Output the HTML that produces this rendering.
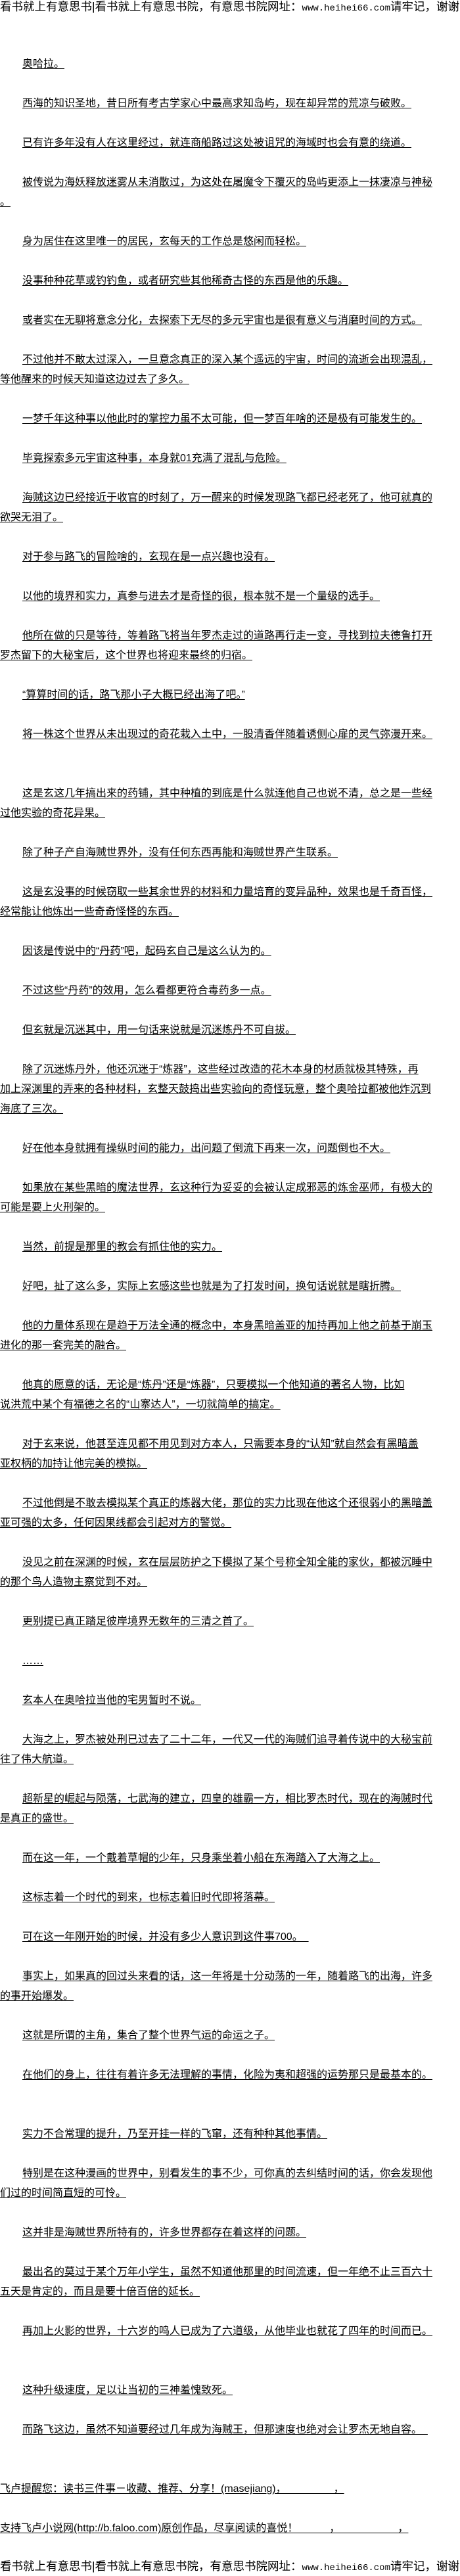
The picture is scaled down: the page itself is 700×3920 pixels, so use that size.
<!DOCTYPE html>
<html><head><meta charset="utf-8">
<style>
html,body{margin:0;padding:0;background:#fff;}
body{width:700px;height:3920px;position:relative;overflow:hidden;color:#000;font-family:"Liberation Sans","Noto Sans CJK SC",sans-serif;font-size:16px;}
.l{position:absolute;left:0;height:30px;line-height:30px;white-space:nowrap;text-decoration:underline;text-underline-offset:2px;}
.i{left:34px;}
.h{position:absolute;left:0;height:22px;line-height:22px;white-space:nowrap;font-size:17.5px;letter-spacing:0;}
.h .m{font-family:"Liberation Mono",monospace;font-size:14px;letter-spacing:0;}
</style></head><body>
<div class="h" style="top:-1px">看书就上有意思书|看书就上有意思书院，有意思书院网址：<span class="m">www.heihei66.com</span>请牢记，谢谢</div>
<div class="l i" style="top:83px">奥哈拉。</div>
<div class="l i" style="top:143px">西海的知识圣地，昔日所有考古学家心中最高求知岛屿，现在却异常的荒凉与破败。</div>
<div class="l i" style="top:203px">已有许多年没有人在这里经过，就连商船路过这处被诅咒的海域时也会有意的绕道。</div>
<div class="l i" style="top:263px">被传说为海妖释放迷雾从未消散过，为这处在屠魔令下覆灭的岛屿更添上一抹凄凉与神秘</div>
<div class="l" style="top:293px">。</div>
<div class="l i" style="top:353px">身为居住在这里唯一的居民，玄每天的工作总是悠闲而轻松。</div>
<div class="l i" style="top:413px">没事种种花草或钓钓鱼，或者研究些其他稀奇古怪的东西是他的乐趣。</div>
<div class="l i" style="top:473px">或者实在无聊将意念分化，去探索下无尽的多元宇宙也是很有意义与消磨时间的方式。</div>
<div class="l i" style="top:533px">不过他并不敢太过深入，一旦意念真正的深入某个遥远的宇宙，时间的流逝会出现混乱，</div>
<div class="l" style="top:563px">等他醒来的时候天知道这边过去了多久。</div>
<div class="l i" style="top:623px">一梦千年这种事以他此时的掌控力虽不太可能，但一梦百年啥的还是极有可能发生的。</div>
<div class="l i" style="top:683px">毕竟探索多元宇宙这种事，本身就01充满了混乱与危险。</div>
<div class="l i" style="top:743px">海贼这边已经接近于收官的时刻了，万一醒来的时候发现路飞都已经老死了，他可就真的</div>
<div class="l" style="top:773px">欲哭无泪了。</div>
<div class="l i" style="top:833px">对于参与路飞的冒险啥的，玄现在是一点兴趣也没有。</div>
<div class="l i" style="top:893px">以他的境界和实力，真参与进去才是奇怪的很，根本就不是一个量级的选手。</div>
<div class="l i" style="top:953px">他所在做的只是等待，等着路飞将当年罗杰走过的道路再行走一变，寻找到拉夫德鲁打开</div>
<div class="l" style="top:983px">罗杰留下的大秘宝后，这个世界也将迎来最终的归宿。</div>
<div class="l i" style="top:1043px">“算算时间的话，路飞那小子大概已经出海了吧。”</div>
<div class="l i" style="top:1103px">将一株这个世界从未出现过的奇花栽入土中，一股清香伴随着诱侧心扉的灵气弥漫开来。</div>
<div class="l i" style="top:1193px">这是玄这几年搞出来的药铺，其中种植的到底是什么就连他自己也说不清，总之是一些经</div>
<div class="l" style="top:1223px">过他实验的奇花异果。</div>
<div class="l i" style="top:1283px">除了种子产自海贼世界外，没有任何东西再能和海贼世界产生联系。</div>
<div class="l i" style="top:1343px">这是玄没事的时候窃取一些其余世界的材料和力量培育的变异品种，效果也是千奇百怪，</div>
<div class="l" style="top:1373px">经常能让他炼出一些奇奇怪怪的东西。</div>
<div class="l i" style="top:1433px">因该是传说中的“丹药”吧，起码玄自己是这么认为的。</div>
<div class="l i" style="top:1493px">不过这些“丹药”的效用，怎么看都更符合毒药多一点。</div>
<div class="l i" style="top:1553px">但玄就是沉迷其中，用一句话来说就是沉迷炼丹不可自拔。</div>
<div class="l i" style="top:1613px">除了沉迷炼丹外，他还沉迷于“炼器”，这些经过改造的花木本身的材质就极其特殊，再</div>
<div class="l" style="top:1643px">加上深渊里的弄来的各种材料，玄整天鼓捣出些实验向的奇怪玩意，整个奥哈拉都被他炸沉到</div>
<div class="l" style="top:1673px">海底了三次。</div>
<div class="l i" style="top:1733px">好在他本身就拥有操纵时间的能力，出问题了倒流下再来一次，问题倒也不大。</div>
<div class="l i" style="top:1793px">如果放在某些黑暗的魔法世界，玄这种行为妥妥的会被认定成邪恶的炼金巫师，有极大的</div>
<div class="l" style="top:1823px">可能是要上火刑架的。</div>
<div class="l i" style="top:1883px">当然，前提是那里的教会有抓住他的实力。</div>
<div class="l i" style="top:1943px">好吧，扯了这么多，实际上玄感这些也就是为了打发时间，换句话说就是瞎折腾。</div>
<div class="l i" style="top:2003px">他的力量体系现在是趋于万法全通的概念中，本身黑暗盖亚的加持再加上他之前基于崩玉</div>
<div class="l" style="top:2033px">进化的那一套完美的融合。</div>
<div class="l i" style="top:2093px">他真的愿意的话，无论是“炼丹”还是“炼器”，只要模拟一个他知道的著名人物，比如</div>
<div class="l" style="top:2123px">说洪荒中某个有福德之名的“山寨达人”，一切就简单的搞定。</div>
<div class="l i" style="top:2183px">对于玄来说，他甚至连见都不用见到对方本人，只需要本身的“认知”就自然会有黑暗盖</div>
<div class="l" style="top:2213px">亚权柄的加持让他完美的模拟。</div>
<div class="l i" style="top:2273px">不过他倒是不敢去模拟某个真正的炼器大佬，那位的实力比现在他这个还很弱小的黑暗盖</div>
<div class="l" style="top:2303px">亚可强的太多，任何因果线都会引起对方的警觉。</div>
<div class="l i" style="top:2363px">没见之前在深渊的时候，玄在层层防护之下模拟了某个号称全知全能的家伙，都被沉睡中</div>
<div class="l" style="top:2393px">的那个鸟人造物主察觉到不对。</div>
<div class="l i" style="top:2453px">更别提已真正踏足彼岸境界无数年的三清之首了。</div>
<div class="l i" style="top:2513px">……</div>
<div class="l i" style="top:2573px">玄本人在奥哈拉当他的宅男暂时不说。</div>
<div class="l i" style="top:2633px">大海之上，罗杰被处刑已过去了二十二年，一代又一代的海贼们追寻着传说中的大秘宝前</div>
<div class="l" style="top:2663px">往了伟大航道。</div>
<div class="l i" style="top:2723px">超新星的崛起与陨落，七武海的建立，四皇的雄霸一方，相比罗杰时代，现在的海贼时代</div>
<div class="l" style="top:2753px">是真正的盛世。</div>
<div class="l i" style="top:2813px">而在这一年，一个戴着草帽的少年，只身乘坐着小船在东海踏入了大海之上。</div>
<div class="l i" style="top:2873px">这标志着一个时代的到来，也标志着旧时代即将落幕。</div>
<div class="l i" style="top:2933px">可在这一年刚开始的时候，并没有多少人意识到这件事700。&nbsp;&nbsp;</div>
<div class="l i" style="top:2993px">事实上，如果真的回过头来看的话，这一年将是十分动荡的一年，随着路飞的出海，许多</div>
<div class="l" style="top:3023px">的事开始爆发。</div>
<div class="l i" style="top:3083px">这就是所谓的主角，集合了整个世界气运的命运之子。</div>
<div class="l i" style="top:3143px">在他们的身上，往往有着许多无法理解的事情，化险为夷和超强的运势那只是最基本的。</div>
<div class="l i" style="top:3233px">实力不合常理的提升，乃至开挂一样的飞窜，还有种种其他事情。</div>
<div class="l i" style="top:3293px">特别是在这种漫画的世界中，别看发生的事不少，可你真的去纠结时间的话，你会发现他</div>
<div class="l" style="top:3323px">们过的时间简直短的可怜。</div>
<div class="l i" style="top:3383px">这并非是海贼世界所特有的，许多世界都存在着这样的问题。</div>
<div class="l i" style="top:3443px">最出名的莫过于某个万年小学生，虽然不知道他那里的时间流速，但一年绝不止三百六十</div>
<div class="l" style="top:3473px">五天是肯定的，而且是要十倍百倍的延长。</div>
<div class="l i" style="top:3533px">再加上火影的世界，十六岁的鸣人已成为了六道级，从他毕业也就花了四年的时间而已。</div>
<div class="l i" style="top:3623px">这种升级速度，足以让当初的三神羞愧致死。</div>
<div class="l i" style="top:3683px">而路飞这边，虽然不知道要经过几年成为海贼王，但那速度也绝对会让罗杰无地自容。&nbsp;&nbsp;</div>
<div class="l" style="top:3773px">飞卢提醒您：读书三件事－收藏、推荐、分享！(masejiang)，　　　　　，</div>
<div class="l" style="top:3833px">支持飞卢小说网(http://b.faloo.com)原创作品，尽享阅读的喜悦！　　　，　　　　　　，</div>
<div class="h" style="top:3894px">看书就上有意思书|看书就上有意思书院，有意思书院网址：<span class="m">www.heihei66.com</span>请牢记，谢谢</div>
</body></html>
